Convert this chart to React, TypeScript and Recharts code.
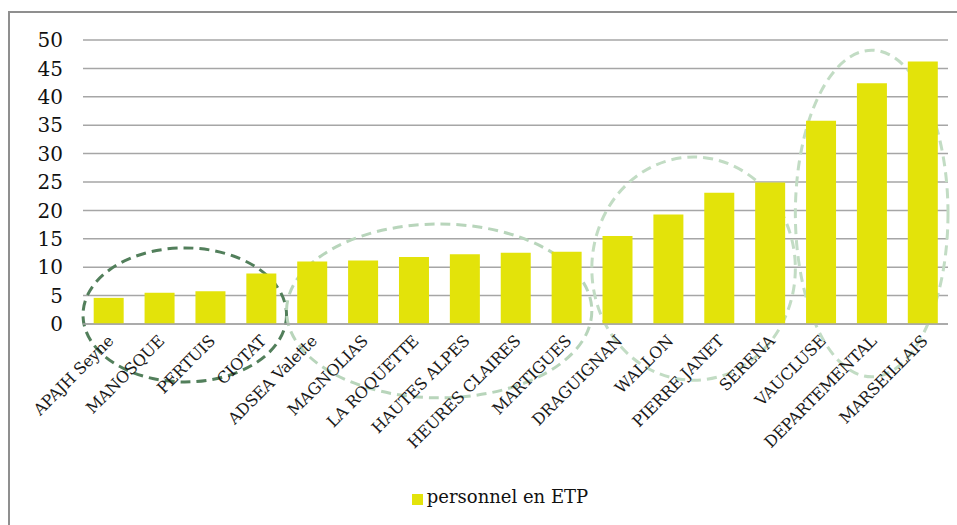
import React from 'react';
import { BarChart, Bar, XAxis, YAxis, CartesianGrid, Legend, ReferenceArea } from 'recharts';

const categories = [
  'APAJH Seyne', 'MANOSQUE', 'PERTUIS', 'CIOTAT', 'ADSEA Valette', 'MAGNOLIAS',
  'LA ROQUETTE', 'HAUTES ALPES', 'HEURES CLAIRES', 'MARTIGUES', 'DRAGUIGNAN',
  'WALLON', 'PIERRE JANET', 'SERENA', 'VAUCLUSE', 'DEPARTEMENTAL', 'MARSEILLAIS',
];
const etp = [4.6, 5.5, 5.75, 8.9, 11.0, 11.2, 11.8, 12.3, 12.55, 12.7, 15.5, 19.3, 23.1, 24.9, 35.8, 42.4, 46.2];
const yTicks = [0, 5, 10, 15, 20, 25, 30, 35, 40, 45, 50];
const seriesName = 'personnel en ETP';

// Annotation groups (dashed ellipses around groups of bars)
const groupFrom = ['APAJH Seyne', 'ADSEA Valette', 'DRAGUIGNAN', 'VAUCLUSE'];
const groupTo = ['CIOTAT', 'MARTIGUES', 'SERENA', 'MARSEILLAIS'];
const groupLow = [-10.2, -13, -9.9, -9.3];
const groupHigh = [13.4, 17.6, 29.4, 48.2];
const groupColor = ['#527f5b', '#b8d5bb', '#c2dcc4', '#c2dcc4'];

const data = categories.map((c, i) => ({ name: c, value: etp[i] }));

const FONT = '"DejaVu Serif", "Liberation Serif", serif';

const EllipseShape = (color: string) => (props: any) => {
  const { x, y, width, height } = props;
  if ([x, y, width, height].some((v) => typeof v !== 'number' || isNaN(v))) return null;
  return (
    <ellipse
      cx={x + width / 2}
      cy={y + height / 2}
      rx={Math.abs(width) / 2}
      ry={Math.abs(height) / 2}
      fill="none"
      stroke={color}
      strokeWidth={3}
      strokeDasharray="10 6"
    />
  );
};

const XTick = (props: any) => {
  const { x, y, payload } = props;
  return (
    <g transform={`translate(${x + 6},${y + 10})`}>
      <text
        x={0}
        y={0}
        textAnchor="end"
        transform="rotate(-45)"
        fontFamily={FONT}
        fontSize={16}
        fill="#1a1a1a"
        letterSpacing={-0.2}
      >
        {payload.value}
      </text>
    </g>
  );
};

export default function App() {
  return (
    <div style={{ position: 'absolute', left: 0, top: 0, width: 957, height: 525, background: '#fff' }}>
      <div
        style={{
          position: 'absolute',
          left: 8,
          top: 11,
          right: 0,
          bottom: 0,
          borderTop: '2px solid #8f8f8f',
          borderLeft: '2px solid #8f8f8f',
        }}
      />
      <div style={{ position: 'absolute', left: 0, top: 0 }}>
        <BarChart
          width={957}
          height={525}
          data={data}
          margin={{ top: 40, right: 9, left: 0, bottom: 18 }}
          barCategoryGap="21%"
        >
          <CartesianGrid horizontal vertical={false} stroke="#a6a6a6" strokeWidth={1.5} />
          <XAxis
            dataKey="name"
            interval={0}
            tickLine={false}
            axisLine={{ stroke: '#a6a6a6', strokeWidth: 1.5 }}
            tick={<XTick />}
            height={162}
          />
          <YAxis
            width={83}
            domain={[0, 50]}
            ticks={yTicks}
            axisLine={false}
            tickLine={false}
            tickSize={0}
            tickMargin={20}
            tick={{ fontFamily: FONT, fontSize: 20, fill: '#111' }}
          />
          <Bar dataKey="value" name={seriesName} fill="#e3e30a" isAnimationActive={false} />
          <Legend
            verticalAlign="bottom"
            iconType="square"
            iconSize={11}
            wrapperStyle={{ left: 31 }}
            formatter={(v: string) => (
              <span style={{ color: '#111', fontFamily: FONT, fontSize: 18 }}>{v}</span>
            )}
          />
          {groupFrom.map((g, i) => (
            <ReferenceArea
              key={g}
              x1={g}
              x2={groupTo[i]}
              y1={groupLow[i]}
              y2={groupHigh[i]}
              ifOverflow="visible"
              shape={EllipseShape(groupColor[i])}
            />
          ))}
        </BarChart>
      </div>
    </div>
  );
}
